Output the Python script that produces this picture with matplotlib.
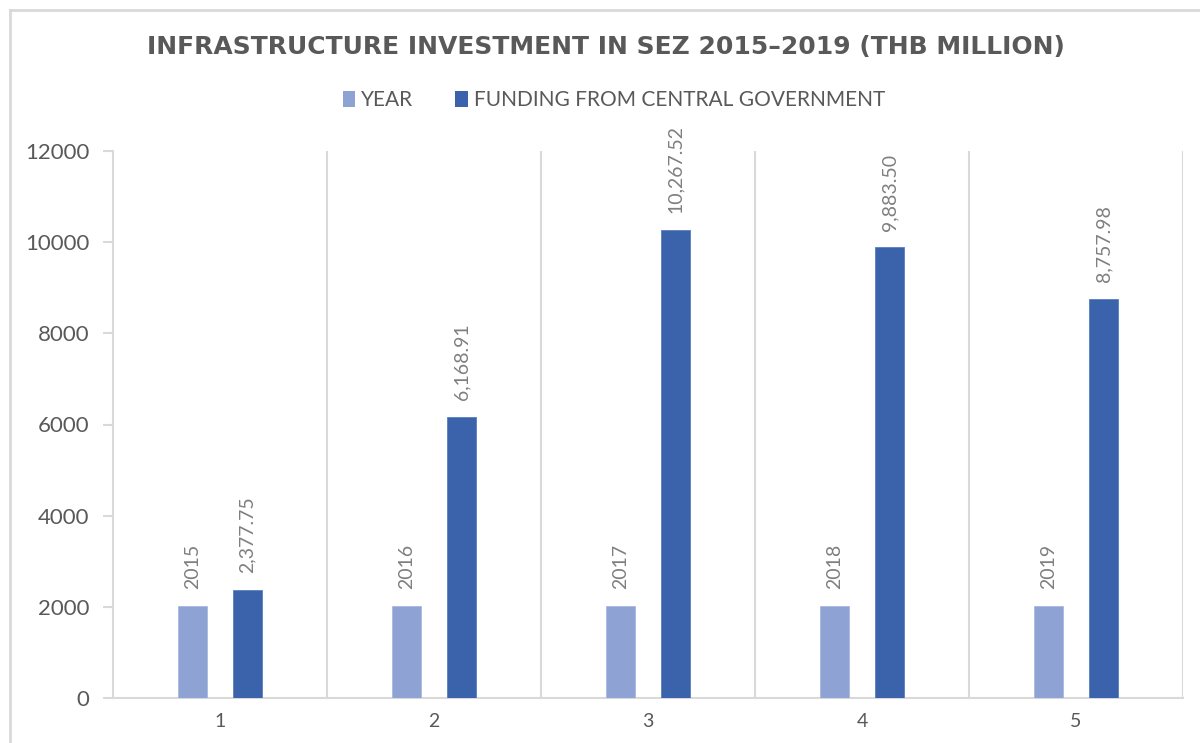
import matplotlib
matplotlib.use("Agg")
import matplotlib.pyplot as plt
from matplotlib.patches import Patch
from matplotlib.lines import Line2D

# Data
categories = [1, 2, 3, 4, 5]
years = [2015, 2016, 2017, 2018, 2019]
funding = [2377.75, 6168.91, 10267.52, 9883.50, 8757.98]
year_labels = ["2015", "2016", "2017", "2018", "2019"]
funding_labels = ["2,377.75", "6,168.91", "10,267.52", "9,883.50", "8,757.98"]
yticks = [0, 2000, 4000, 6000, 8000, 10000, 12000]

FONT = ["Lato", "DejaVu Sans"]
plt.rcParams["font.family"] = FONT

c_year = "#8fa2d4"
c_fund = "#3a63ab"
c_grid = "#d9d9d9"
c_text = "#595959"
c_label = "#7f7f7f"

W, H = 1200, 743
fig = plt.figure(figsize=(W / 100, H / 100), dpi=100)
fig.patch.set_facecolor("white")

ax = fig.add_axes([113 / W, 1 - 698 / H, (1183 - 113) / W, (698 - 151) / H])

width = 0.136
offset = 0.1285
xs_year = [c - offset for c in categories]
xs_fund = [c + offset for c in categories]
ax.bar(xs_year, years, width=width, color=c_year, edgecolor="#a9b8e0", linewidth=0.6, zorder=3)
ax.bar(xs_fund, funding, width=width, color=c_fund, edgecolor="#5a7fc2", linewidth=0.6, zorder=3)

# Rotated value labels above the bars
for x, v, t in zip(xs_year, years, year_labels):
    ax.annotate(t, (x, v), xytext=(0, 12), textcoords="offset points",
                rotation=90, ha="center", va="bottom", fontsize=14, color=c_label)
for x, v, t in zip(xs_fund, funding, funding_labels):
    ax.annotate(t, (x, v), xytext=(0, 12), textcoords="offset points",
                rotation=90, ha="center", va="bottom", fontsize=14, color=c_label,
                annotation_clip=False)

ax.set_xlim(0.5, 5.5)
ax.set_ylim(0, 12000)

# Vertical separators between categories
for b in [1.5, 2.5, 3.5, 4.5, 5.5]:
    ax.axvline(b, color=c_grid, linewidth=1.5, zorder=1)

for s in ["top", "right"]:
    ax.spines[s].set_visible(False)
for s in ["left", "bottom"]:
    ax.spines[s].set_color(c_grid)
    ax.spines[s].set_linewidth(1.5)

ax.set_yticks(yticks)
ax.set_yticklabels([str(v) for v in yticks])
ax.set_xticks(categories)
ax.set_xticklabels([str(c) for c in categories])
ax.tick_params(axis="y", length=7, width=1.5, color=c_grid, labelsize=16,
               labelcolor=c_text, pad=10)
ax.tick_params(axis="x", length=0, labelsize=14, labelcolor=c_text, pad=11)

# Title
fig.text(606 / W, 1 - 47 / H, "INFRASTRUCTURE INVESTMENT IN SEZ 2015\u20132019 (THB MILLION)",
         ha="center", va="center", fontsize=18, fontweight="bold", color=c_text,
         family=["DejaVu Sans"])

# Legend
handles = [Patch(facecolor=c_year, edgecolor="none", label="YEAR"),
           Patch(facecolor=c_fund, edgecolor="none", label="FUNDING FROM CENTRAL GOVERNMENT")]
leg = fig.legend(handles=handles, loc="center", bbox_to_anchor=(614 / W, 1 - 100 / H),
                 ncol=2, frameon=False, fontsize=15, handlelength=0.6, handleheight=0.8,
                 handletextpad=0.3, columnspacing=2.0)
for t in leg.get_texts():
    t.set_color(c_text)

# Outer chart frame
fig.add_artist(Line2D([10 / W, 10 / W], [1 - 10 / H, 0], color=c_grid, linewidth=2,
                      transform=fig.transFigure))
fig.add_artist(Line2D([10 / W, 1], [1 - 10 / H, 1 - 10 / H], color=c_grid, linewidth=2,
                      transform=fig.transFigure))

fig.savefig("out.png", dpi=100, facecolor="white")
